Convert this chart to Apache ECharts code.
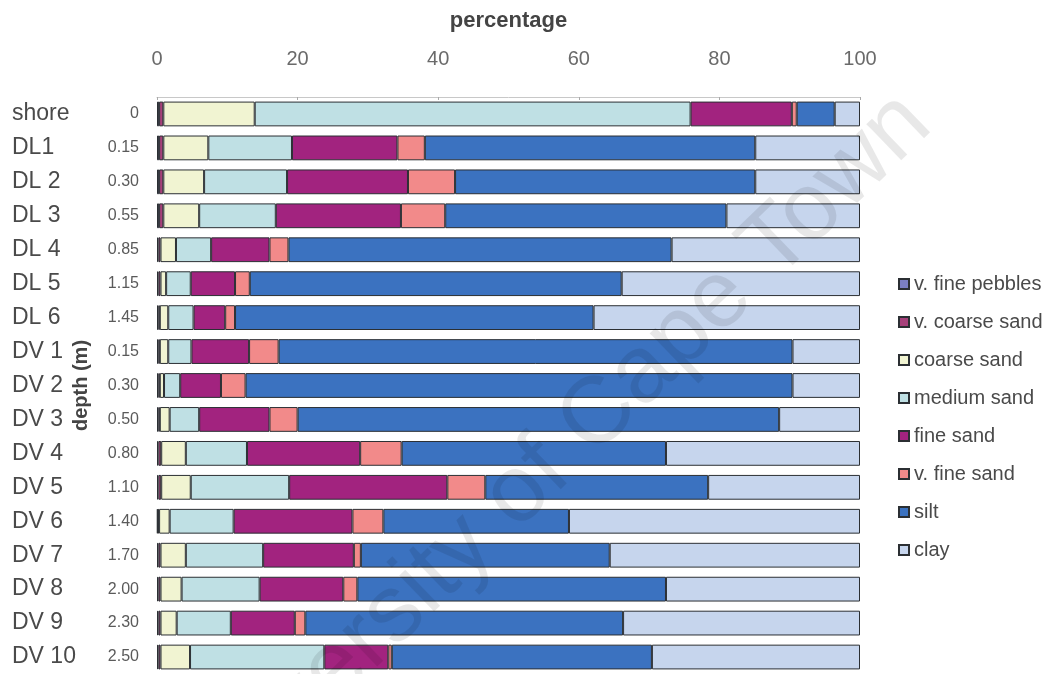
<!DOCTYPE html>
<html>
<head>
<meta charset="utf-8">
<script src="https://cdn.jsdelivr.net/npm/echarts@6/dist/echarts.min.js"></script>
<style>
  html, body { margin: 0; padding: 0; background: #fff; }
  #chart { width: 1063px; height: 674px; }
</style>
</head>
<body>
<div id="chart"></div>
<script>
// Sample stations and their depths below the surface (m)
const stations = ['shore', 'DL1', 'DL 2', 'DL 3', 'DL 4', 'DL 5', 'DL 6',
  'DV 1', 'DV 2', 'DV 3', 'DV 4', 'DV 5', 'DV 6', 'DV 7', 'DV 8', 'DV 9', 'DV 10'];
const depths = ['0', '0.15', '0.30', '0.55', '0.85', '1.15', '1.45',
  '0.15', '0.30', '0.50', '0.80', '1.10', '1.40', '1.70', '2.00', '2.30', '2.50'];

// Grain-size fractions, percent of each sample, coarse to fine
const vFinePebbles = [0.3, 0.3, 0.3, 0.3, 0.2, 0.2, 0.2, 0.2, 0.2, 0.2, 0.2, 0.2, 0.1, 0.2, 0.2, 0.2, 0.2];
const vCoarseSand  = [0.6, 0.6, 0.6, 0.6, 0.3, 0.3, 0.2, 0.2, 0.2, 0.2, 0.4, 0.4, 0.2, 0.3, 0.3, 0.3, 0.3];
const coarseSand   = [13.0, 6.4, 5.8, 5.1, 2.2, 0.8, 1.2, 1.2, 0.6, 1.4, 3.5, 4.2, 1.5, 3.6, 3.0, 2.3, 4.2];
const mediumSand   = [62.0, 11.9, 11.8, 10.9, 5.0, 3.5, 3.6, 3.3, 2.3, 4.2, 8.7, 14.0, 9.1, 11.0, 11.1, 7.7, 19.1];
const fineSand     = [14.4, 15.0, 17.2, 17.8, 8.3, 6.3, 4.5, 8.2, 5.8, 10.0, 16.1, 22.5, 16.9, 12.9, 11.9, 9.1, 9.1];
const vFineSand    = [0.7, 3.9, 6.7, 6.3, 2.7, 2.1, 1.4, 4.2, 3.5, 4.0, 5.9, 5.4, 4.4, 1.0, 2.0, 1.5, 0.5];
const silt         = [5.4, 47.0, 42.7, 40.0, 54.5, 52.9, 51.0, 73.1, 77.8, 68.5, 37.6, 31.7, 26.4, 35.4, 43.9, 45.2, 37.0];
const clay         = [3.6, 14.9, 14.9, 19.0, 26.8, 33.9, 37.9, 9.6, 9.6, 11.5, 27.6, 21.6, 41.4, 35.6, 27.6, 33.7, 29.6];

const percentTicks = [0, 20, 40, 60, 80, 100];

const fractions = [
  { name: 'v. fine pebbles', data: vFinePebbles, color: '#7b7fc4' },
  { name: 'v. coarse sand',  data: vCoarseSand,  color: '#a6407a' },
  { name: 'coarse sand',     data: coarseSand,   color: '#f1f4d2' },
  { name: 'medium sand',     data: mediumSand,   color: '#bfe0e4' },
  { name: 'fine sand',       data: fineSand,     color: '#a2237f' },
  { name: 'v. fine sand',    data: vFineSand,    color: '#f28a8a' },
  { name: 'silt',            data: silt,         color: '#3b72c0' },
  { name: 'clay',            data: clay,         color: '#c6d5ed' }
];

const FONT = '"Liberation Sans", Arial, sans-serif';

const chart = echarts.init(document.getElementById('chart'), null, { renderer: 'canvas' });

chart.setOption({
  backgroundColor: '#ffffff',
  animation: false,
  textStyle: { fontFamily: FONT },
  grid: { left: 157, width: 703, top: 97, height: 583, containLabel: false },
  legend: {
    orient: 'vertical',
    left: 893,
    top: 268,
    itemWidth: 10,
    itemHeight: 10,
    itemGap: 16,
    icon: 'rect',
    data: fractions.map(f => f.name),
    textStyle: { fontFamily: FONT, fontSize: 20, color: '#4a4a4a', lineHeight: 22 }
  },
  xAxis: {
    type: 'value',
    position: 'top',
    min: percentTicks[0],
    max: percentTicks[percentTicks.length - 1],
    interval: percentTicks[1] - percentTicks[0],
    name: 'percentage',
    nameLocation: 'middle',
    nameGap: 65,
    nameTextStyle: { fontFamily: FONT, fontSize: 22, fontWeight: 'bold', color: '#444' },
    axisLine: { show: true, lineStyle: { color: '#c8c8c8', width: 1 } },
    axisTick: { show: true, inside: true, length: 3, lineStyle: { color: '#aaa' } },
    axisLabel: { margin: 28, fontSize: 20, color: '#6a6a6a', fontFamily: FONT },
    splitLine: { show: false }
  },
  yAxis: [
    {
      type: 'category',
      inverse: true,
      data: stations,
      position: 'left',
      axisLine: { show: false },
      axisTick: { show: false },
      axisLabel: { align: 'left', margin: 145, fontSize: 23, color: '#4a4a4a', fontFamily: FONT }
    },
    {
      type: 'category',
      inverse: true,
      data: depths,
      position: 'left',
      name: 'depth (m)',
      nameLocation: 'middle',
      nameRotate: 90,
      nameGap: 66,
      nameTextStyle: { fontFamily: FONT, fontSize: 20, fontWeight: 'bold', color: '#444' },
      axisLine: { show: false },
      axisTick: { show: false },
      axisLabel: { align: 'right', margin: 18, fontSize: 16, color: '#5a5a5a', fontFamily: FONT }
    }
  ],
  graphic: [
    {
      type: 'text',
      x: 548,
      y: 465,
      rotation: 44 * Math.PI / 180,
      silent: true,
      z: 100,
      style: {
        text: 'University of Cape Town',
        fontFamily: FONT,
        fontSize: 95,
        fill: 'rgba(0,0,0,0.09)',
        textAlign: 'center',
        textVerticalAlign: 'middle'
      }
    }
  ],
  series: fractions.map(f => ({
    name: f.name,
    type: 'bar',
    stack: 'grain',
    yAxisIndex: 0,
    barCategoryGap: '27%',
    data: f.data,
    itemStyle: { color: f.color, borderColor: '#2b2f33', borderWidth: 1 }
  }))
});
</script>
</body>
</html>
